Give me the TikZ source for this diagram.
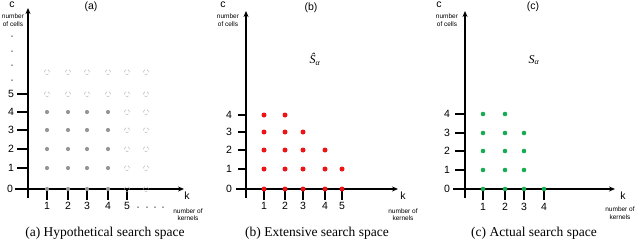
\documentclass[tikz,border=0pt]{standalone}
\usepackage{fontspec}
\setmainfont{Liberation Serif}
\setsansfont{Liberation Sans}
\usetikzlibrary{arrows.meta}
\definecolor{dotgray}{RGB}{150,150,150}
\definecolor{opengray}{RGB}{180,180,180}
\definecolor{dotred}{RGB}{236,20,22}
\definecolor{dotgreen}{RGB}{24,172,82}
\begin{document}
\begin{tikzpicture}[x=1pt,y=-1pt,
  axisline/.style={line width=1.3pt,-{Stealth[length=6pt,width=5pt]}},
  tickmark/.style={line width=2pt},
  num/.style={font=\sffamily\fontsize{10.5}{12}\selectfont,inner sep=0pt},
  letter/.style={font=\sffamily\fontsize{10.5}{12}\selectfont,inner sep=0pt},
  tiny/.style={font=\sffamily\fontsize{6.5}{7.5}\selectfont,inner sep=0pt,align=center},
  caption/.style={font=\fontsize{13.5}{15}\selectfont,inner sep=0pt},
  setname/.style={font=\itshape\fontsize{12}{13}\selectfont,inner sep=0pt},
  gdot/.style={circle,fill=dotgray,inner sep=0pt,minimum size=4.2pt},
  odot/.style={circle,draw=opengray,densely dashed,line width=0.5pt,inner sep=0pt,minimum size=5pt},
  rdot/.style={circle,fill=dotred,inner sep=0pt,minimum size=5pt},
  edot/.style={circle,fill=dotgreen,inner sep=0pt,minimum size=4.6pt},
  vdot/.style={circle,fill=black!80,inner sep=0pt,minimum size=1.5pt}]
\useasboundingbox (0,0) rectangle (640,242);

% ---------------- Panel (a) ----------------
\coordinate (a-ybot) at (28,198);
\coordinate (a-ytop) at (28,8);
\coordinate (a-xl) at (15,189);
\coordinate (a-xr) at (184,189);
\draw[axisline] (a-ybot) -- (a-ytop);
\draw[axisline] (a-xl) -- (a-xr);
\node[num] (a-y0) at (10,189) {0};
\foreach \v/\y in {1/168,2/149,3/130,4/112,5/94}{
  \coordinate (a-yt\v) at (17,\y);
  \coordinate (a-ya\v) at (28,\y);
  \draw[tickmark] (a-yt\v) -- (a-ya\v);
  \node[num] (a-y\v) at (11,\y) {\v};
}
\foreach \i/\y in {1/80,2/65,3/51,4/36}{ \node[vdot] (a-v\i) at (12,\y) {}; }
\foreach \c/\x in {1/47,2/68,3/87,4/108,5/127}{
  \coordinate (a-xt\c) at (\x,189);
  \coordinate (a-xb\c) at (\x,200);
  \draw[tickmark] (a-xt\c) -- (a-xb\c);
  \node[num] (a-x\c) at (\x,206) {\c};
}
\foreach \i/\x in {1/138,2/147,3/155,4/163}{ \node[vdot] (a-h\i) at (\x,207) {}; }
% open dots
\foreach \c/\x in {1/47,2/68,3/87,4/108,5/127,6/146}{
  \foreach \r/\y in {5/94,6/72}{ \node[odot] (a-d\c-\r) at (\x,\y) {}; }
}
\foreach \c/\x in {5/127,6/146}{
  \foreach \r/\y in {0/189,1/168,2/149,3/130,4/112}{ \node[odot] (a-d\c-\r) at (\x,\y) {}; }
}
\foreach \c/\x in {1/47,2/68,3/87,4/108}{
  \foreach \r/\y in {0/189,1/168,2/149,3/130,4/112}{ \node[gdot] (a-d\c-\r) at (\x,\y) {}; }
}
\node[letter] (a-c) at (12,5) {c};
\node[tiny] (a-cl) at (13,20) {number\\of cells};
\node[num] (a-t) at (91,7) {(a)};
\node[letter] (a-k) at (187,196) {k};
\node[tiny] (a-kl) at (188,214.5) {number of\\kernels};
\node[caption] (a-cap) at (105,233) {(a) Hypothetical search space};

% ---------------- Panel (b) ----------------
\coordinate (b-ybot) at (246,198);
\coordinate (b-ytop) at (246,11);
\coordinate (b-xl) at (236,189);
\coordinate (b-xr) at (398,189);
\draw[axisline] (b-ybot) -- (b-ytop);
\draw[axisline] (b-xl) -- (b-xr);
\node[num] (b-y0) at (229,189) {0};
\foreach \v/\y in {1/169,2/150,3/132,4/115}{
  \coordinate (b-yt\v) at (238,\y);
  \coordinate (b-ya\v) at (246,\y);
  \draw[tickmark] (b-yt\v) -- (b-ya\v);
  \node[num] (b-y\v) at (229,\y) {\v};
}
\foreach \c/\x in {1/264,2/285,3/303,4/325,5/342}{
  \coordinate (b-xt\c) at (\x,189);
  \coordinate (b-xb\c) at (\x,200);
  \draw[tickmark] (b-xt\c) -- (b-xb\c);
  \node[num] (b-x\c) at (\x,206) {\c};
}
\foreach \c/\x/\n in {1/264/4,2/285/4,3/303/3,4/325/2,5/342/1}{
  \foreach \r/\y in {0/189,1/169,2/150,3/132,4/115}{
    \ifnum\r>\n\else \node[rdot] (b-d\c-\r) at (\x,\y) {};\fi
  }
}
\node[letter] (b-c) at (223,5) {c};
\node[tiny] (b-cl) at (228,20) {number\\of cells};
\node[num] (b-t) at (311,8) {(b)};
\node[setname] (b-s) at (315,59) {Ŝ\textsubscript{α}};
\node[letter] (b-k) at (403,196) {k};
\node[tiny] (b-kl) at (403,214.5) {number of\\kernels};
\node[caption] (b-cap) at (317,233) {(b) Extensive search space};

% ---------------- Panel (c) ----------------
\coordinate (c-ybot) at (465,198);
\coordinate (c-ytop) at (465,11);
\coordinate (c-xl) at (453,189);
\coordinate (c-xr) at (615,189);
\draw[axisline] (c-ybot) -- (c-ytop);
\draw[axisline] (c-xl) -- (c-xr);
\node[num] (c-y0) at (447,189) {0};
\foreach \v/\y in {1/170,2/151,3/133,4/114}{
  \coordinate (c-yt\v) at (455,\y);
  \coordinate (c-ya\v) at (465,\y);
  \draw[tickmark] (c-yt\v) -- (c-ya\v);
  \node[num] (c-y\v) at (447,\y) {\v};
}
\foreach \c/\x in {1/483,2/505,3/524,4/544}{
  \coordinate (c-xt\c) at (\x,189);
  \coordinate (c-xb\c) at (\x,200);
  \draw[tickmark] (c-xt\c) -- (c-xb\c);
  \node[num] (c-x\c) at (\x,207) {\c};
}
\foreach \c/\x/\n in {1/483/4,2/505/4,3/524/3,4/544/0}{
  \foreach \r/\y in {0/189,1/170,2/151,3/133,4/114}{
    \ifnum\r>\n\else \node[edot] (c-d\c-\r) at (\x,\y) {};\fi
  }
}
\node[letter] (c-c) at (439,5) {c};
\node[tiny] (c-cl) at (447,20) {number\\of cells};
\node[num] (c-t) at (533,7) {(c)};
\node[setname] (c-s) at (534,60) {S\textsubscript{α}};
\node[letter] (c-k) at (623,196) {k};
\node[tiny] (c-kl) at (620,213) {number of\\kernels};
\node[caption] (c-cap) at (534,233) {(c) Actual search space};
\end{tikzpicture}
\end{document}
